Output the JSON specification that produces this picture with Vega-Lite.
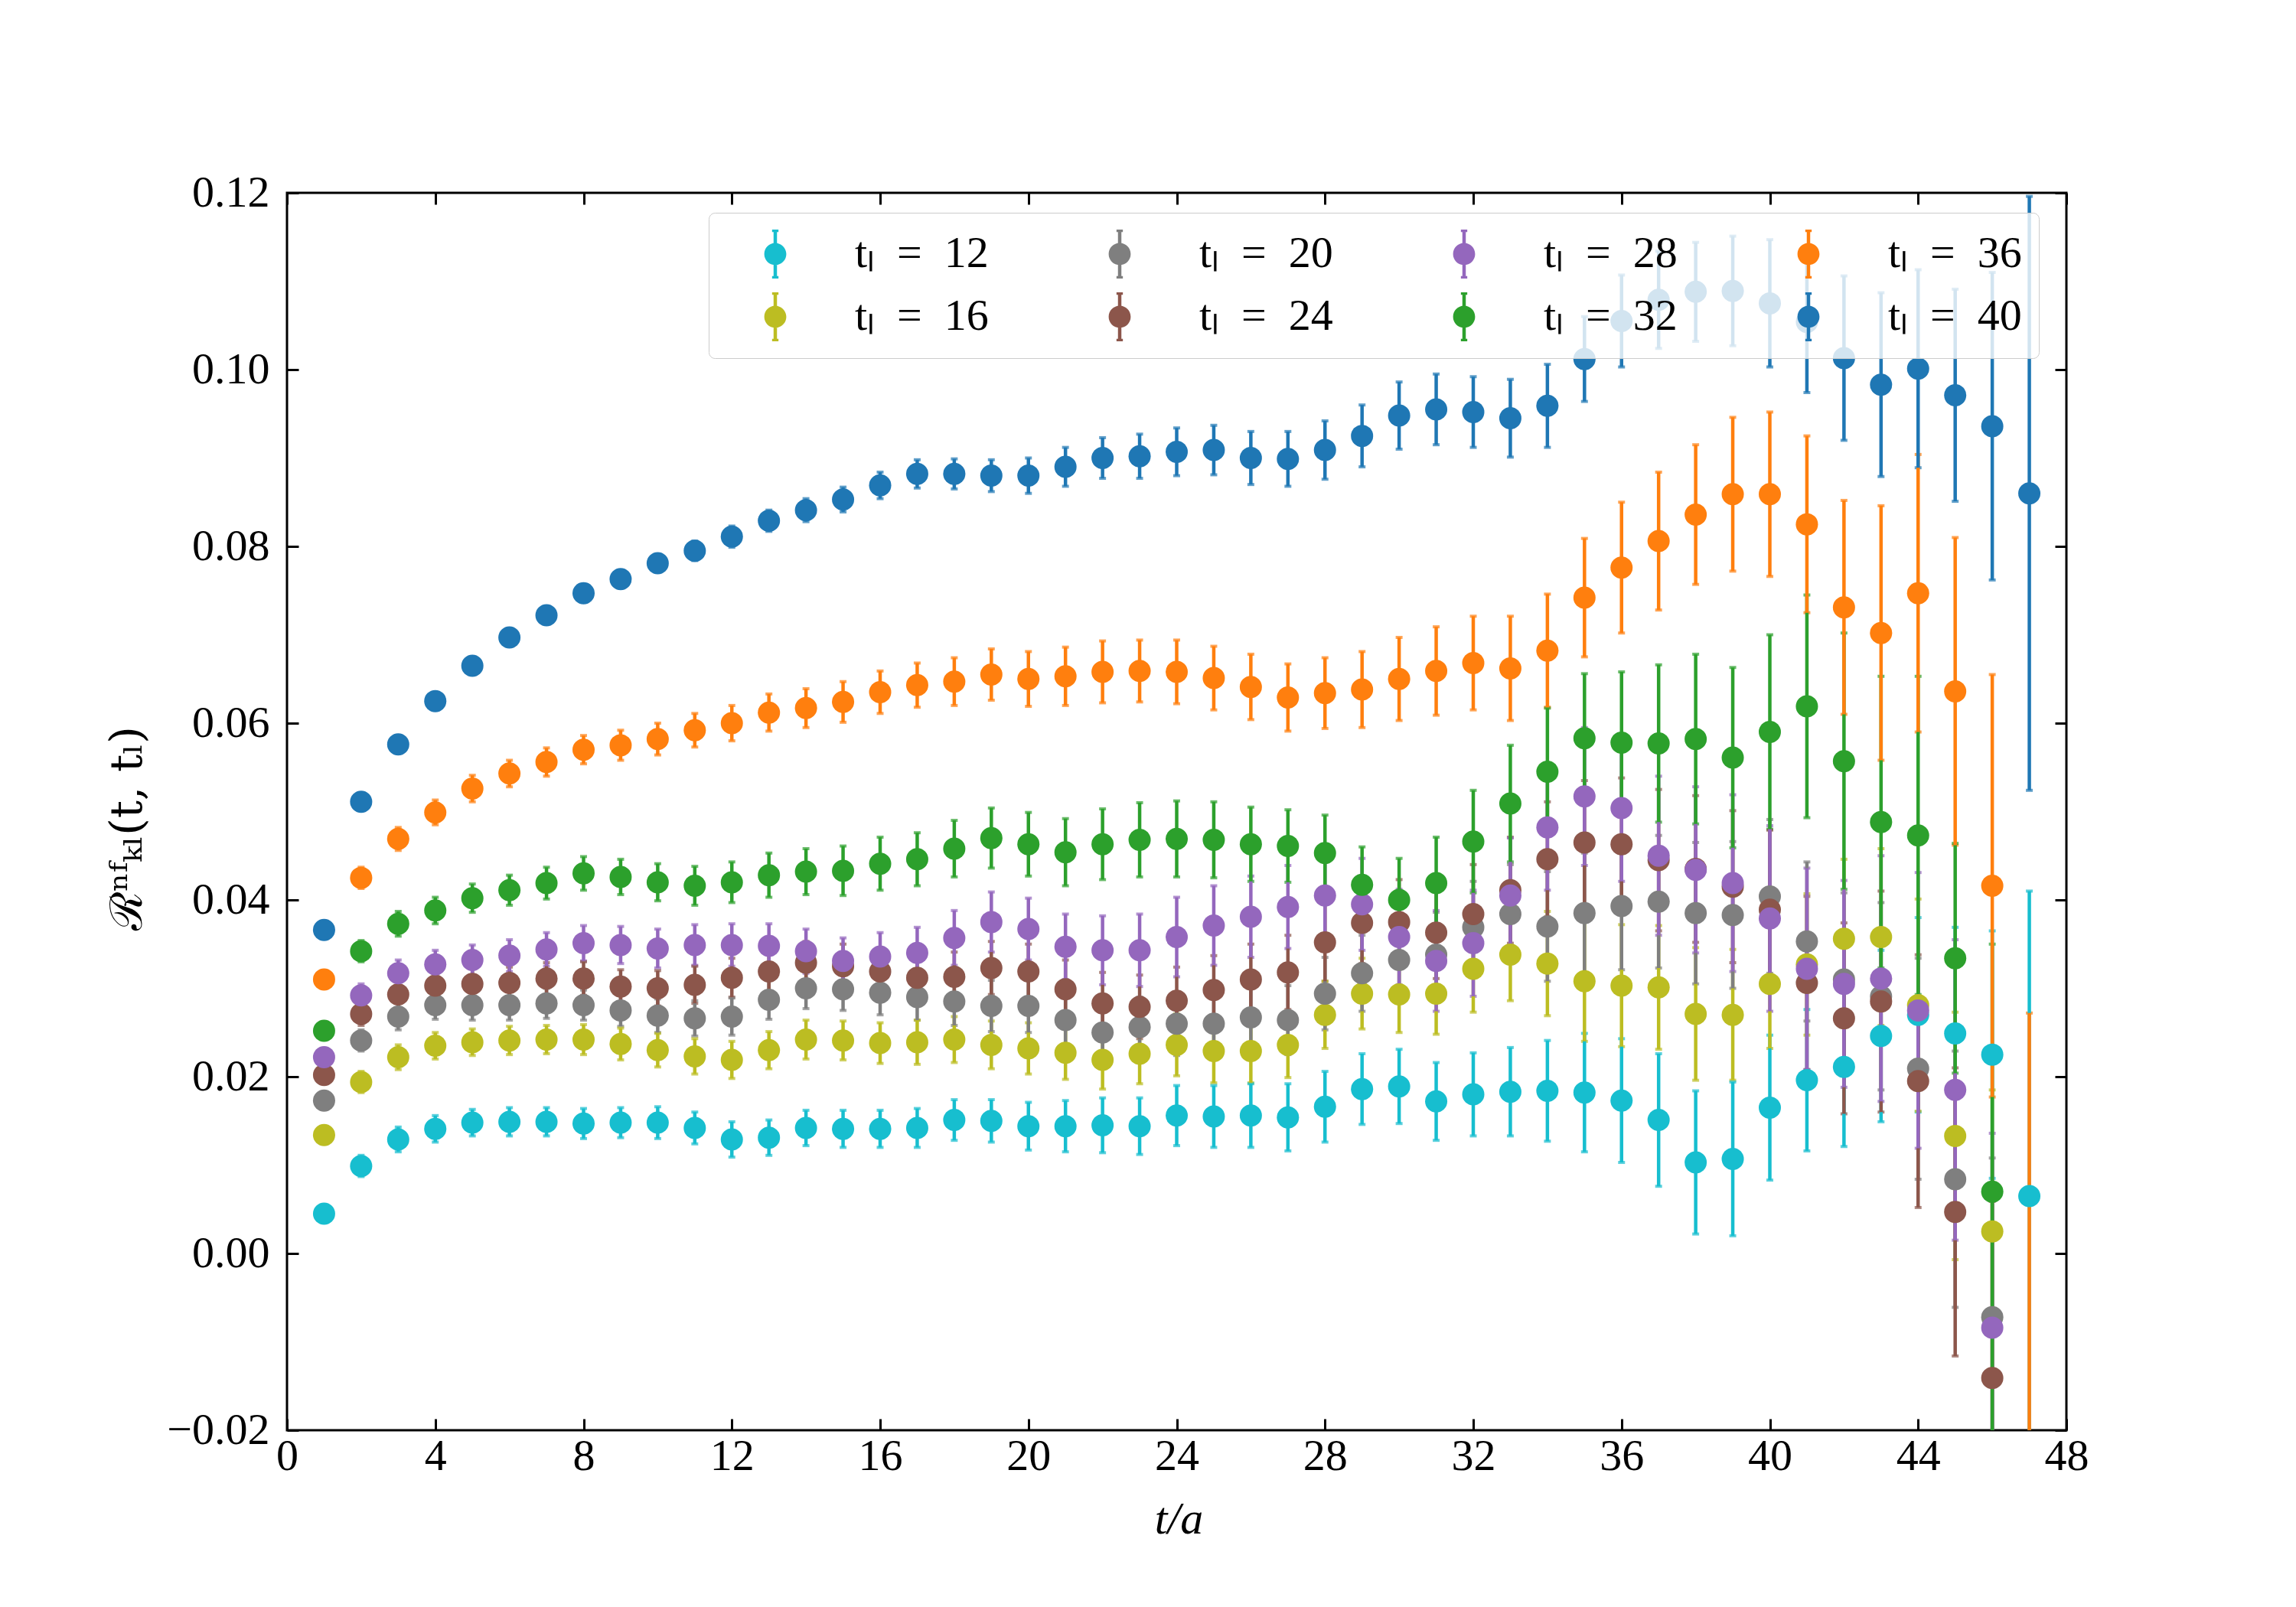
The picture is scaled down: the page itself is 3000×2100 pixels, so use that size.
{
  "$schema": "https://vega.github.io/schema/vega-lite/v6.json",
  "width": 2325,
  "height": 1617,
  "autosize": {"type": "none"},
  "padding": {"left": 375, "top": 252, "right": 300, "bottom": 231},
  "background": "white",
  "config": {
    "view": {"stroke": "black", "strokeWidth": 3},
    "axis": {
      "grid": false,
      "domain": false,
      "labelFont": "Liberation Serif",
      "labelFontSize": 58,
      "labelColor": "black",
      "labelFlush": false,
      "tickColor": "black",
      "tickWidth": 3,
      "tickSize": -15,
      "titleFont": "Liberation Serif",
      "titleFontSize": 60,
      "titleFontWeight": "normal",
      "titleColor": "black"
    }
  },
  "data": {"values": [
    {"s":12,"t":1,"v":0.0045,"e":0.0005},{"s":12,"t":2,"v":0.0099,"e":0.0012},{"s":12,"t":3,"v":0.0129,"e":0.0014},{"s":12,"t":4,"v":0.0141,"e":0.0015},{"s":12,"t":5,"v":0.0148,"e":0.0015},{"s":12,"t":6,"v":0.0149,"e":0.0016},{"s":12,"t":7,"v":0.0149,"e":0.0016},{"s":12,"t":8,"v":0.0147,"e":0.0017},{"s":12,"t":9,"v":0.0148,"e":0.0017},{"s":12,"t":10,"v":0.0148,"e":0.0018},{"s":12,"t":11,"v":0.0142,"e":0.0018},{"s":12,"t":12,"v":0.0129,"e":0.002},{"s":12,"t":13,"v":0.0131,"e":0.002},{"s":12,"t":14,"v":0.0142,"e":0.002},{"s":12,"t":15,"v":0.0141,"e":0.0021},{"s":12,"t":16,"v":0.0141,"e":0.0021},{"s":12,"t":17,"v":0.0142,"e":0.0022},{"s":12,"t":18,"v":0.0151,"e":0.0023},{"s":12,"t":19,"v":0.015,"e":0.0024},{"s":12,"t":20,"v":0.0144,"e":0.0027},{"s":12,"t":21,"v":0.0144,"e":0.0029},{"s":12,"t":22,"v":0.0145,"e":0.0031},{"s":12,"t":23,"v":0.0144,"e":0.0032},{"s":12,"t":24,"v":0.0156,"e":0.0034},{"s":12,"t":25,"v":0.0155,"e":0.0035},{"s":12,"t":26,"v":0.0156,"e":0.0036},{"s":12,"t":27,"v":0.0154,"e":0.0038},{"s":12,"t":28,"v":0.0166,"e":0.004},{"s":12,"t":29,"v":0.0186,"e":0.004},{"s":12,"t":30,"v":0.0189,"e":0.0042},{"s":12,"t":31,"v":0.0172,"e":0.0044},{"s":12,"t":32,"v":0.018,"e":0.0047},{"s":12,"t":33,"v":0.0183,"e":0.005},{"s":12,"t":34,"v":0.0184,"e":0.0057},{"s":12,"t":35,"v":0.0182,"e":0.0067},{"s":12,"t":36,"v":0.0173,"e":0.007},{"s":12,"t":37,"v":0.0151,"e":0.0075},{"s":12,"t":38,"v":0.0103,"e":0.0081},{"s":12,"t":39,"v":0.0107,"e":0.0087},{"s":12,"t":40,"v":0.0165,"e":0.0082},{"s":12,"t":41,"v":0.0196,"e":0.008},{"s":12,"t":42,"v":0.0211,"e":0.009},{"s":12,"t":43,"v":0.0246,"e":0.0097},{"s":12,"t":44,"v":0.027,"e":0.011},{"s":12,"t":45,"v":0.0249,"e":0.012},{"s":12,"t":46,"v":0.0225,"e":0.014},{"s":12,"t":47,"v":0.0065,"e":0.0345},
    {"s":16,"t":1,"v":0.0134,"e":0.0006},{"s":16,"t":2,"v":0.0194,"e":0.0012},{"s":16,"t":3,"v":0.0222,"e":0.0014},{"s":16,"t":4,"v":0.0235,"e":0.0015},{"s":16,"t":5,"v":0.0239,"e":0.0015},{"s":16,"t":6,"v":0.0241,"e":0.0016},{"s":16,"t":7,"v":0.0242,"e":0.0016},{"s":16,"t":8,"v":0.0242,"e":0.0017},{"s":16,"t":9,"v":0.0237,"e":0.0018},{"s":16,"t":10,"v":0.023,"e":0.0019},{"s":16,"t":11,"v":0.0223,"e":0.002},{"s":16,"t":12,"v":0.0219,"e":0.0021},{"s":16,"t":13,"v":0.023,"e":0.0021},{"s":16,"t":14,"v":0.0242,"e":0.0022},{"s":16,"t":15,"v":0.0241,"e":0.0022},{"s":16,"t":16,"v":0.0238,"e":0.0023},{"s":16,"t":17,"v":0.0239,"e":0.0025},{"s":16,"t":18,"v":0.0242,"e":0.0026},{"s":16,"t":19,"v":0.0236,"e":0.0027},{"s":16,"t":20,"v":0.0232,"e":0.0029},{"s":16,"t":21,"v":0.0227,"e":0.003},{"s":16,"t":22,"v":0.0219,"e":0.0033},{"s":16,"t":23,"v":0.0226,"e":0.0034},{"s":16,"t":24,"v":0.0236,"e":0.0035},{"s":16,"t":25,"v":0.0229,"e":0.0036},{"s":16,"t":26,"v":0.0229,"e":0.0036},{"s":16,"t":27,"v":0.0236,"e":0.0037},{"s":16,"t":28,"v":0.027,"e":0.0038},{"s":16,"t":29,"v":0.0294,"e":0.004},{"s":16,"t":30,"v":0.0293,"e":0.0043},{"s":16,"t":31,"v":0.0294,"e":0.0046},{"s":16,"t":32,"v":0.0322,"e":0.0049},{"s":16,"t":33,"v":0.0338,"e":0.0052},{"s":16,"t":34,"v":0.0328,"e":0.0059},{"s":16,"t":35,"v":0.0308,"e":0.0068},{"s":16,"t":36,"v":0.0303,"e":0.0069},{"s":16,"t":37,"v":0.0301,"e":0.007},{"s":16,"t":38,"v":0.0271,"e":0.0075},{"s":16,"t":39,"v":0.027,"e":0.0074},{"s":16,"t":40,"v":0.0305,"e":0.0073},{"s":16,"t":41,"v":0.0327,"e":0.008},{"s":16,"t":42,"v":0.0356,"e":0.009},{"s":16,"t":43,"v":0.0358,"e":0.01},{"s":16,"t":44,"v":0.0281,"e":0.012},{"s":16,"t":45,"v":0.0133,"e":0.014},{"s":16,"t":46,"v":0.0025,"e":0.016},
    {"s":20,"t":1,"v":0.0173,"e":0.0006},{"s":20,"t":2,"v":0.0241,"e":0.0012},{"s":20,"t":3,"v":0.0268,"e":0.0015},{"s":20,"t":4,"v":0.0281,"e":0.0016},{"s":20,"t":5,"v":0.0281,"e":0.0017},{"s":20,"t":6,"v":0.0281,"e":0.0017},{"s":20,"t":7,"v":0.0283,"e":0.0017},{"s":20,"t":8,"v":0.0281,"e":0.0017},{"s":20,"t":9,"v":0.0275,"e":0.0018},{"s":20,"t":10,"v":0.0269,"e":0.0019},{"s":20,"t":11,"v":0.0266,"e":0.002},{"s":20,"t":12,"v":0.0268,"e":0.0021},{"s":20,"t":13,"v":0.0287,"e":0.0022},{"s":20,"t":14,"v":0.03,"e":0.0023},{"s":20,"t":15,"v":0.0299,"e":0.0024},{"s":20,"t":16,"v":0.0295,"e":0.0025},{"s":20,"t":17,"v":0.029,"e":0.0026},{"s":20,"t":18,"v":0.0285,"e":0.0027},{"s":20,"t":19,"v":0.028,"e":0.0029},{"s":20,"t":20,"v":0.028,"e":0.003},{"s":20,"t":21,"v":0.0264,"e":0.0031},{"s":20,"t":22,"v":0.025,"e":0.0033},{"s":20,"t":23,"v":0.0256,"e":0.0034},{"s":20,"t":24,"v":0.026,"e":0.0036},{"s":20,"t":25,"v":0.026,"e":0.0037},{"s":20,"t":26,"v":0.0267,"e":0.0038},{"s":20,"t":27,"v":0.0264,"e":0.0039},{"s":20,"t":28,"v":0.0294,"e":0.0041},{"s":20,"t":29,"v":0.0317,"e":0.0043},{"s":20,"t":30,"v":0.0332,"e":0.0045},{"s":20,"t":31,"v":0.0338,"e":0.0048},{"s":20,"t":32,"v":0.0369,"e":0.0052},{"s":20,"t":33,"v":0.0384,"e":0.0056},{"s":20,"t":34,"v":0.037,"e":0.0062},{"s":20,"t":35,"v":0.0385,"e":0.0068},{"s":20,"t":36,"v":0.0393,"e":0.0072},{"s":20,"t":37,"v":0.0398,"e":0.0075},{"s":20,"t":38,"v":0.0385,"e":0.008},{"s":20,"t":39,"v":0.0383,"e":0.0083},{"s":20,"t":40,"v":0.0404,"e":0.0087},{"s":20,"t":41,"v":0.0353,"e":0.009},{"s":20,"t":42,"v":0.031,"e":0.0098},{"s":20,"t":43,"v":0.0291,"e":0.0106},{"s":20,"t":44,"v":0.0209,"e":0.0125},{"s":20,"t":45,"v":0.0084,"e":0.0145},{"s":20,"t":46,"v":-0.0072,"e":0.018},
    {"s":24,"t":1,"v":0.0202,"e":0.0006},{"s":24,"t":2,"v":0.0271,"e":0.0013},{"s":24,"t":3,"v":0.0293,"e":0.0015},{"s":24,"t":4,"v":0.0303,"e":0.0016},{"s":24,"t":5,"v":0.0305,"e":0.0017},{"s":24,"t":6,"v":0.0306,"e":0.0018},{"s":24,"t":7,"v":0.0311,"e":0.0018},{"s":24,"t":8,"v":0.0311,"e":0.0019},{"s":24,"t":9,"v":0.0302,"e":0.0019},{"s":24,"t":10,"v":0.03,"e":0.002},{"s":24,"t":11,"v":0.0304,"e":0.0021},{"s":24,"t":12,"v":0.0312,"e":0.0022},{"s":24,"t":13,"v":0.0319,"e":0.0023},{"s":24,"t":14,"v":0.0329,"e":0.0024},{"s":24,"t":15,"v":0.0325,"e":0.0025},{"s":24,"t":16,"v":0.0319,"e":0.0026},{"s":24,"t":17,"v":0.0312,"e":0.0027},{"s":24,"t":18,"v":0.0313,"e":0.0028},{"s":24,"t":19,"v":0.0323,"e":0.003},{"s":24,"t":20,"v":0.0319,"e":0.0031},{"s":24,"t":21,"v":0.0299,"e":0.0033},{"s":24,"t":22,"v":0.0283,"e":0.0035},{"s":24,"t":23,"v":0.0279,"e":0.0036},{"s":24,"t":24,"v":0.0286,"e":0.0038},{"s":24,"t":25,"v":0.0298,"e":0.0039},{"s":24,"t":26,"v":0.031,"e":0.004},{"s":24,"t":27,"v":0.0318,"e":0.0042},{"s":24,"t":28,"v":0.0352,"e":0.0044},{"s":24,"t":29,"v":0.0374,"e":0.0046},{"s":24,"t":30,"v":0.0375,"e":0.0048},{"s":24,"t":31,"v":0.0363,"e":0.0052},{"s":24,"t":32,"v":0.0384,"e":0.0056},{"s":24,"t":33,"v":0.0411,"e":0.006},{"s":24,"t":34,"v":0.0446,"e":0.0065},{"s":24,"t":35,"v":0.0465,"e":0.007},{"s":24,"t":36,"v":0.0463,"e":0.0075},{"s":24,"t":37,"v":0.0445,"e":0.008},{"s":24,"t":38,"v":0.0435,"e":0.0083},{"s":24,"t":39,"v":0.0415,"e":0.0086},{"s":24,"t":40,"v":0.0389,"e":0.009},{"s":24,"t":41,"v":0.0306,"e":0.0098},{"s":24,"t":42,"v":0.0266,"e":0.0108},{"s":24,"t":43,"v":0.0285,"e":0.0125},{"s":24,"t":44,"v":0.0195,"e":0.0143},{"s":24,"t":45,"v":0.0047,"e":0.0163},{"s":24,"t":46,"v":-0.0141,"e":0.02},
    {"s":28,"t":1,"v":0.0222,"e":0.0007},{"s":28,"t":2,"v":0.0292,"e":0.0013},{"s":28,"t":3,"v":0.0317,"e":0.0015},{"s":28,"t":4,"v":0.0327,"e":0.0016},{"s":28,"t":5,"v":0.0332,"e":0.0017},{"s":28,"t":6,"v":0.0337,"e":0.0018},{"s":28,"t":7,"v":0.0344,"e":0.0019},{"s":28,"t":8,"v":0.0351,"e":0.002},{"s":28,"t":9,"v":0.0349,"e":0.0021},{"s":28,"t":10,"v":0.0345,"e":0.0022},{"s":28,"t":11,"v":0.0349,"e":0.0023},{"s":28,"t":12,"v":0.0349,"e":0.0024},{"s":28,"t":13,"v":0.0348,"e":0.0025},{"s":28,"t":14,"v":0.0342,"e":0.0025},{"s":28,"t":15,"v":0.0331,"e":0.0026},{"s":28,"t":16,"v":0.0336,"e":0.0027},{"s":28,"t":17,"v":0.034,"e":0.0029},{"s":28,"t":18,"v":0.0357,"e":0.0031},{"s":28,"t":19,"v":0.0375,"e":0.0034},{"s":28,"t":20,"v":0.0367,"e":0.0035},{"s":28,"t":21,"v":0.0347,"e":0.0037},{"s":28,"t":22,"v":0.0343,"e":0.0039},{"s":28,"t":23,"v":0.0343,"e":0.0041},{"s":28,"t":24,"v":0.0358,"e":0.0045},{"s":28,"t":25,"v":0.0371,"e":0.0045},{"s":28,"t":26,"v":0.0381,"e":0.0046},{"s":28,"t":27,"v":0.0392,"e":0.0047},{"s":28,"t":28,"v":0.0405,"e":0.005},{"s":28,"t":29,"v":0.0395,"e":0.0052},{"s":28,"t":30,"v":0.0358,"e":0.0054},{"s":28,"t":31,"v":0.0331,"e":0.0057},{"s":28,"t":32,"v":0.0351,"e":0.006},{"s":28,"t":33,"v":0.0405,"e":0.0065},{"s":28,"t":34,"v":0.0482,"e":0.0071},{"s":28,"t":35,"v":0.0517,"e":0.0078},{"s":28,"t":36,"v":0.0504,"e":0.0083},{"s":28,"t":37,"v":0.045,"e":0.009},{"s":28,"t":38,"v":0.0434,"e":0.0094},{"s":28,"t":39,"v":0.0419,"e":0.01},{"s":28,"t":40,"v":0.0379,"e":0.0105},{"s":28,"t":41,"v":0.0322,"e":0.0114},{"s":28,"t":42,"v":0.0305,"e":0.0117},{"s":28,"t":43,"v":0.0311,"e":0.0139},{"s":28,"t":44,"v":0.0275,"e":0.0156},{"s":28,"t":45,"v":0.0185,"e":0.017},{"s":28,"t":46,"v":-0.0084,"e":0.022},
    {"s":32,"t":1,"v":0.0252,"e":0.0007},{"s":32,"t":2,"v":0.0342,"e":0.0012},{"s":32,"t":3,"v":0.0373,"e":0.0014},{"s":32,"t":4,"v":0.0388,"e":0.0015},{"s":32,"t":5,"v":0.0402,"e":0.0016},{"s":32,"t":6,"v":0.0411,"e":0.0017},{"s":32,"t":7,"v":0.0419,"e":0.0018},{"s":32,"t":8,"v":0.043,"e":0.0019},{"s":32,"t":9,"v":0.0426,"e":0.002},{"s":32,"t":10,"v":0.042,"e":0.0021},{"s":32,"t":11,"v":0.0416,"e":0.0022},{"s":32,"t":12,"v":0.042,"e":0.0023},{"s":32,"t":13,"v":0.0428,"e":0.0025},{"s":32,"t":14,"v":0.0432,"e":0.0026},{"s":32,"t":15,"v":0.0433,"e":0.0028},{"s":32,"t":16,"v":0.0441,"e":0.003},{"s":32,"t":17,"v":0.0446,"e":0.003},{"s":32,"t":18,"v":0.0458,"e":0.0032},{"s":32,"t":19,"v":0.047,"e":0.0034},{"s":32,"t":20,"v":0.0463,"e":0.0036},{"s":32,"t":21,"v":0.0454,"e":0.0038},{"s":32,"t":22,"v":0.0463,"e":0.004},{"s":32,"t":23,"v":0.0468,"e":0.0042},{"s":32,"t":24,"v":0.0469,"e":0.0043},{"s":32,"t":25,"v":0.0468,"e":0.0043},{"s":32,"t":26,"v":0.0463,"e":0.0042},{"s":32,"t":27,"v":0.0461,"e":0.0041},{"s":32,"t":28,"v":0.0453,"e":0.0043},{"s":32,"t":29,"v":0.0417,"e":0.0043},{"s":32,"t":30,"v":0.04,"e":0.0047},{"s":32,"t":31,"v":0.0419,"e":0.0052},{"s":32,"t":32,"v":0.0466,"e":0.0058},{"s":32,"t":33,"v":0.0509,"e":0.0066},{"s":32,"t":34,"v":0.0545,"e":0.0072},{"s":32,"t":35,"v":0.0583,"e":0.0073},{"s":32,"t":36,"v":0.0578,"e":0.008},{"s":32,"t":37,"v":0.0577,"e":0.0089},{"s":32,"t":38,"v":0.0582,"e":0.0096},{"s":32,"t":39,"v":0.0561,"e":0.0102},{"s":32,"t":40,"v":0.059,"e":0.011},{"s":32,"t":41,"v":0.0619,"e":0.0126},{"s":32,"t":42,"v":0.0557,"e":0.0145},{"s":32,"t":43,"v":0.0488,"e":0.0165},{"s":32,"t":44,"v":0.0473,"e":0.018},{"s":32,"t":45,"v":0.0334,"e":0.013},{"s":32,"t":46,"v":0.007,"e":0.028},
    {"s":36,"t":1,"v":0.031,"e":0.0006},{"s":36,"t":2,"v":0.0425,"e":0.0012},{"s":36,"t":3,"v":0.0469,"e":0.0013},{"s":36,"t":4,"v":0.0499,"e":0.0014},{"s":36,"t":5,"v":0.0526,"e":0.0015},{"s":36,"t":6,"v":0.0543,"e":0.0015},{"s":36,"t":7,"v":0.0556,"e":0.0016},{"s":36,"t":8,"v":0.057,"e":0.0016},{"s":36,"t":9,"v":0.0575,"e":0.0017},{"s":36,"t":10,"v":0.0582,"e":0.0018},{"s":36,"t":11,"v":0.0592,"e":0.0019},{"s":36,"t":12,"v":0.06,"e":0.002},{"s":36,"t":13,"v":0.0612,"e":0.0021},{"s":36,"t":14,"v":0.0617,"e":0.0022},{"s":36,"t":15,"v":0.0624,"e":0.0023},{"s":36,"t":16,"v":0.0635,"e":0.0024},{"s":36,"t":17,"v":0.0643,"e":0.0025},{"s":36,"t":18,"v":0.0647,"e":0.0027},{"s":36,"t":19,"v":0.0655,"e":0.0029},{"s":36,"t":20,"v":0.065,"e":0.0031},{"s":36,"t":21,"v":0.0653,"e":0.0033},{"s":36,"t":22,"v":0.0658,"e":0.0035},{"s":36,"t":23,"v":0.0659,"e":0.0035},{"s":36,"t":24,"v":0.0658,"e":0.0036},{"s":36,"t":25,"v":0.0651,"e":0.0036},{"s":36,"t":26,"v":0.0641,"e":0.0037},{"s":36,"t":27,"v":0.0629,"e":0.0038},{"s":36,"t":28,"v":0.0634,"e":0.004},{"s":36,"t":29,"v":0.0638,"e":0.0043},{"s":36,"t":30,"v":0.065,"e":0.0047},{"s":36,"t":31,"v":0.0659,"e":0.005},{"s":36,"t":32,"v":0.0668,"e":0.0053},{"s":36,"t":33,"v":0.0662,"e":0.0059},{"s":36,"t":34,"v":0.0682,"e":0.0064},{"s":36,"t":35,"v":0.0742,"e":0.0067},{"s":36,"t":36,"v":0.0776,"e":0.0074},{"s":36,"t":37,"v":0.0806,"e":0.0078},{"s":36,"t":38,"v":0.0836,"e":0.0079},{"s":36,"t":39,"v":0.0859,"e":0.0087},{"s":36,"t":40,"v":0.0859,"e":0.0093},{"s":36,"t":41,"v":0.0825,"e":0.01},{"s":36,"t":42,"v":0.0731,"e":0.0121},{"s":36,"t":43,"v":0.0702,"e":0.0144},{"s":36,"t":44,"v":0.0747,"e":0.0157},{"s":36,"t":45,"v":0.0636,"e":0.0174},{"s":36,"t":46,"v":0.0416,"e":0.0239},{"s":36,"t":47,"v":-0.04,"e":0.0672},
    {"s":40,"t":1,"v":0.0366,"e":0.0004},{"s":40,"t":2,"v":0.0511,"e":0.0006},{"s":40,"t":3,"v":0.0576,"e":0.0007},{"s":40,"t":4,"v":0.0625,"e":0.0007},{"s":40,"t":5,"v":0.0665,"e":0.0008},{"s":40,"t":6,"v":0.0697,"e":0.0008},{"s":40,"t":7,"v":0.0722,"e":0.0009},{"s":40,"t":8,"v":0.0747,"e":0.0009},{"s":40,"t":9,"v":0.0763,"e":0.001},{"s":40,"t":10,"v":0.0781,"e":0.001},{"s":40,"t":11,"v":0.0795,"e":0.0011},{"s":40,"t":12,"v":0.0811,"e":0.0012},{"s":40,"t":13,"v":0.0829,"e":0.0012},{"s":40,"t":14,"v":0.0841,"e":0.0013},{"s":40,"t":15,"v":0.0853,"e":0.0014},{"s":40,"t":16,"v":0.0869,"e":0.0015},{"s":40,"t":17,"v":0.0882,"e":0.0016},{"s":40,"t":18,"v":0.0882,"e":0.0017},{"s":40,"t":19,"v":0.088,"e":0.0018},{"s":40,"t":20,"v":0.088,"e":0.002},{"s":40,"t":21,"v":0.089,"e":0.0022},{"s":40,"t":22,"v":0.09,"e":0.0023},{"s":40,"t":23,"v":0.0902,"e":0.0025},{"s":40,"t":24,"v":0.0907,"e":0.0027},{"s":40,"t":25,"v":0.0909,"e":0.0028},{"s":40,"t":26,"v":0.09,"e":0.003},{"s":40,"t":27,"v":0.0899,"e":0.0031},{"s":40,"t":28,"v":0.0909,"e":0.0033},{"s":40,"t":29,"v":0.0925,"e":0.0035},{"s":40,"t":30,"v":0.0948,"e":0.0038},{"s":40,"t":31,"v":0.0955,"e":0.004},{"s":40,"t":32,"v":0.0952,"e":0.004},{"s":40,"t":33,"v":0.0945,"e":0.0044},{"s":40,"t":34,"v":0.0959,"e":0.0047},{"s":40,"t":35,"v":0.1012,"e":0.0048},{"s":40,"t":36,"v":0.1055,"e":0.0052},{"s":40,"t":37,"v":0.1079,"e":0.0055},{"s":40,"t":38,"v":0.1088,"e":0.0056},{"s":40,"t":39,"v":0.1089,"e":0.0062},{"s":40,"t":40,"v":0.1075,"e":0.0072},{"s":40,"t":41,"v":0.1054,"e":0.008},{"s":40,"t":42,"v":0.1013,"e":0.0093},{"s":40,"t":43,"v":0.0983,"e":0.0104},{"s":40,"t":44,"v":0.1001,"e":0.0112},{"s":40,"t":45,"v":0.0971,"e":0.012},{"s":40,"t":46,"v":0.0936,"e":0.0174},{"s":40,"t":47,"v":0.086,"e":0.0336}
  ]},
  "resolve": {"axis": {"x": "independent", "y": "independent"}},
  "layer": [
    {
      "mark": {"type": "errorbar", "clip": true, "ticks": {"size": 9, "thickness": 4}, "rule": {"strokeWidth": 4.5}},
      "encoding": {
        "x": {"field": "t", "type": "quantitative", "scale": {"domain": [0, 48], "nice": false, "zero": false}, "axis": null},
        "y": {"field": "v", "type": "quantitative", "scale": {"domain": [-0.02, 0.12], "nice": false, "zero": false}, "axis": null},
        "yError": {"field": "e"},
        "color": {"field": "s", "type": "nominal"}
      }
    },
    {
      "mark": {"type": "point", "filled": true, "opacity": 1, "size": 841, "clip": true},
      "encoding": {
        "x": {
          "field": "t", "type": "quantitative",
          "scale": {"domain": [0, 48], "nice": false, "zero": false},
          "axis": {"orient": "bottom", "values": [0, 4, 8, 12, 16, 20, 24, 28, 32, 36, 40, 44, 48], "labelPadding": 20, "title": "t/a", "titleFontStyle": "italic", "titleX": 1165, "titleY": 116, "titleBaseline": "middle", "titleAlign": "center"}
        },
        "y": {
          "field": "v", "type": "quantitative",
          "scale": {"domain": [-0.02, 0.12], "nice": false, "zero": false},
          "axis": {"orient": "left", "values": [-0.02, 0, 0.02, 0.04, 0.06, 0.08, 0.1, 0.12], "format": ".2f", "labelPadding": 38, "title": "ℛⁿᶠₖₗ(t, tₗ)", "titleFont": "DejaVu Serif", "titleFontSize": 58, "titleAngle": -90, "titleX": -208, "titleY": 830, "titleBaseline": "middle", "titleAlign": "center"}
        },
        "color": {
          "field": "s", "type": "nominal",
          "scale": {"domain": [12, 16, 20, 24, 28, 32, 36, 40], "range": ["#17becf", "#bcbd22", "#7f7f7f", "#8c564b", "#9467bd", "#2ca02c", "#ff7f0e", "#1f77b4"]},
          "legend": {
            "orient": "none", "legendX": 551, "legendY": 26, "columns": 4, "title": null,
            "symbolType": "M-0.45,0A0.45,0.45 0 1,1 0.45,0A0.45,0.45 0 1,1 -0.45,0Z M-0.07,-1L0.07,-1L0.07,1L-0.07,1Z M-0.13,-1L0.13,-1L0.13,-0.9L-0.13,-0.9Z M-0.13,0.9L0.13,0.9L0.13,1L-0.13,1Z",
            "symbolSize": 4096, "symbolOpacity": 1, "symbolStrokeWidth": 0, "symbolOffset": 33,
            "labelFont": "Liberation Serif", "labelFontSize": 58, "labelColor": "black", "labelLimit": 400,
            "labelOffset": 72, "columnPadding": 106, "rowPadding": 18, "padding": 22,
            "fillColor": "rgba(255,255,255,0.8)", "strokeColor": "#cccccc", "cornerRadius": 8,
            "labelExpr": "'tₗ\u2002=\u2002' + datum.label",
            "encode": {"symbols": {"update": {"opacity": {"value": 1}, "fillOpacity": {"value": 1}, "strokeOpacity": {"value": 0}}}}
          }
        }
      }
    },
    {
      "mark": {"type": "point", "opacity": 0},
      "encoding": {
        "x": {"field": "t", "type": "quantitative", "scale": {"domain": [0, 48], "nice": false, "zero": false}, "axis": {"orient": "top", "values": [0, 4, 8, 12, 16, 20, 24, 28, 32, 36, 40, 44, 48], "labels": false, "title": null}},
        "y": {"field": "v", "type": "quantitative", "scale": {"domain": [-0.02, 0.12], "nice": false, "zero": false}, "axis": {"orient": "right", "values": [-0.02, 0, 0.02, 0.04, 0.06, 0.08, 0.1, 0.12], "labels": false, "title": null}}
      }
    }
  ]
}
